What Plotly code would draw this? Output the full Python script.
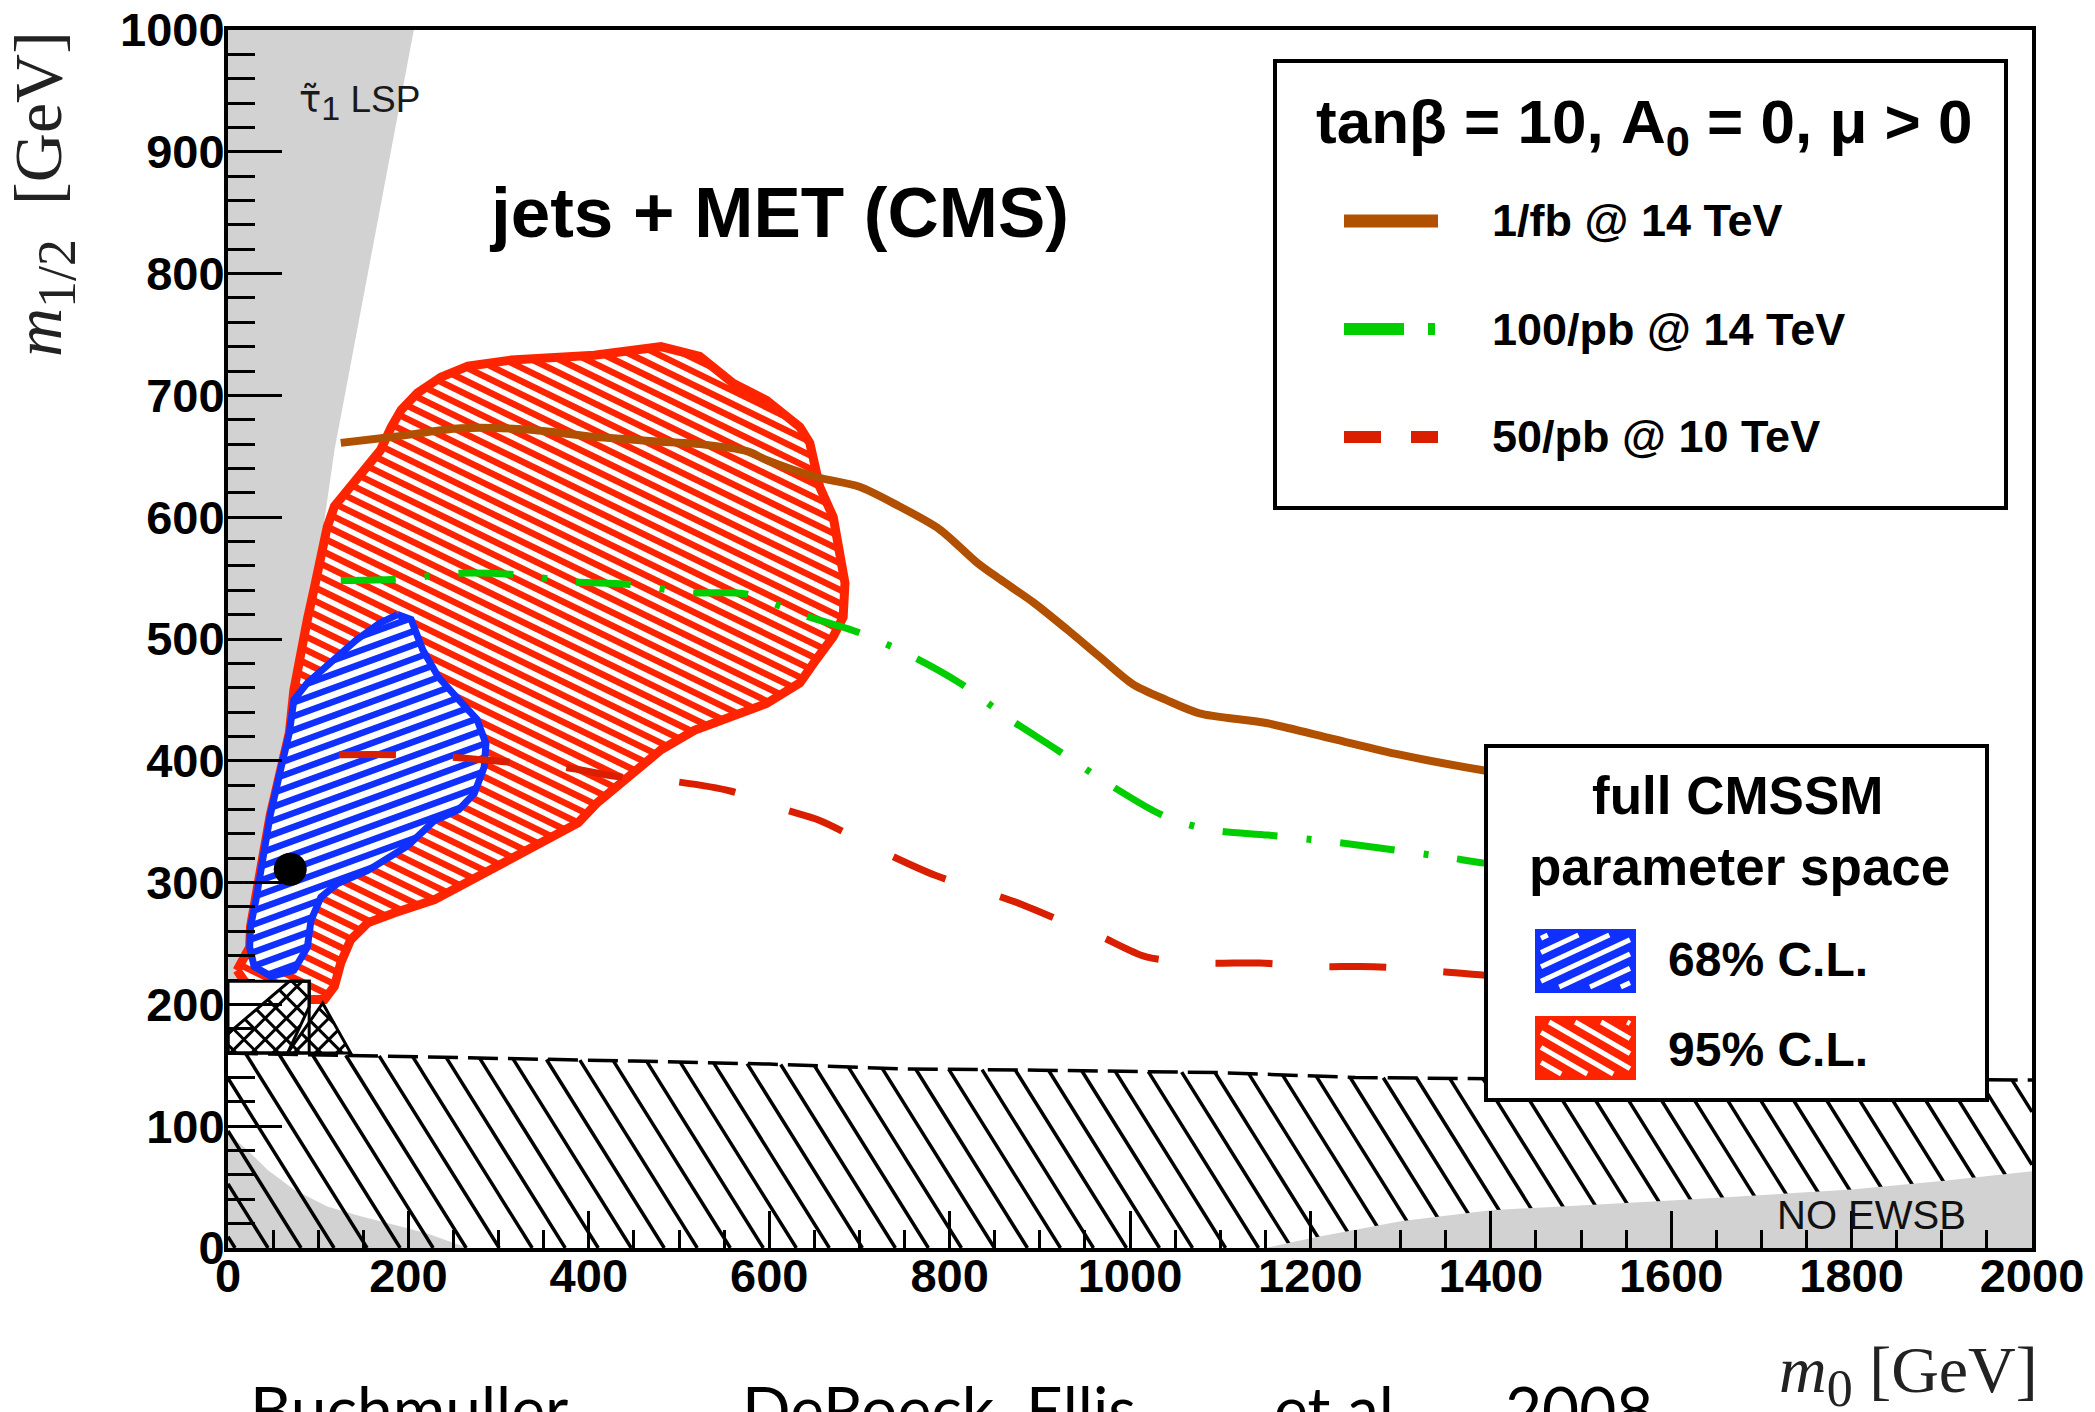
import numpy as np
import plotly.graph_objects as go

# ---------------- axis ticks ----------------
x_ticks = [0, 200, 400, 600, 800, 1000, 1200, 1400, 1600, 1800, 2000]
y_ticks = [0, 100, 200, 300, 400, 500, 600, 700, 800, 900, 1000]

# ---------------- excluded regions (m0, m1/2) ----------------
stau_m0 = [0, 15, 22, 38, 61, 88, 118, 206, 0]
stau_m12 = [160, 220, 245, 300, 400, 500, 655, 1000, 1000]

lowleft_m0 = [0, 22, 44, 73, 110, 147, 184, 221, 251, 266, 0]
lowleft_m12 = [94, 80, 64, 48, 34, 26, 19, 12, 4, 0, 0]

noewsb_m0 = [1150, 1200, 1250, 1300, 1400, 1600, 1800, 1900, 2000, 2000]
noewsb_m12 = [0, 8, 15, 22, 31, 39, 48, 55, 63, 0]

lep_top_m0 = [0, 150, 300, 450, 600, 750, 900, 1000, 1100, 1250, 1400, 1600, 2000]
lep_top_m12 = [160, 158, 155.5, 153.5, 151, 147, 146, 145, 144, 140, 139, 138.5, 138]

xbox_m0 = [0, 0, 90, 90]
xbox_m12 = [160, 219, 219, 160]
xband_m0 = [0, 0, 68, 90, 90, 66]
xband_m12 = [160, 176, 219, 219, 198, 160]
xtri_m0 = [66, 105, 136]
xtri_m12 = [160, 201, 160]

# ---------------- CMSSM fit regions ----------------
cl95_m0 = [10, 24, 25, 31, 36, 40, 47, 59, 68, 73, 79, 88, 96, 103, 110, 118, 136, 155, 169, 181,
           192, 210, 236, 266, 314, 406, 454, 480, 523, 560, 597, 634, 645, 656, 671, 678, 684, 682,
           671, 652, 634, 597, 560, 517, 480, 443, 410, 388, 332, 277, 229, 184, 155, 136, 125, 118,
           107, 73, 40, 22]
cl95_m12 = [228, 247, 264, 286, 308, 327, 356, 395, 423, 458, 483, 516, 543, 570, 592, 609, 625, 642, 655, 674,
            688, 702, 715, 724, 729, 733, 737, 740, 732, 710, 696, 674, 661, 625, 600, 573, 546, 518,
            502, 483, 464, 447, 436, 425, 409, 387, 366, 349, 327, 305, 286, 275, 267, 253, 234, 215,
            204, 204, 206, 215]

cl68_m0 = [188, 203, 216, 233, 256, 276, 286, 284, 273, 256, 229, 199, 155, 121, 103, 92, 88, 73, 48, 29,
           24, 25, 31, 36, 40, 47, 59, 68, 73, 88, 108, 142, 168]
cl68_m12 = [520, 516, 491, 469, 450, 434, 414, 395, 373, 360, 351, 330, 310, 299, 288, 269, 247, 228, 223, 231,
            247, 264, 286, 308, 327, 356, 395, 423, 450, 464, 477, 499, 513]

bestfit_m0 = [69]
bestfit_m12 = [311]

# ---------------- reach curves ----------------
fb14_m0 = [125, 184, 258, 332, 406, 480, 523, 576, 597, 652, 700, 744, 789, 830, 856, 893, 930, 967,
           1003, 1040, 1077, 1151, 1225, 1299, 1393, 1420]
fb14_m12 = [661, 666, 673, 672, 666, 662, 660, 654, 647, 633, 625, 609, 590, 563, 549, 530, 508, 485,
            463, 450, 439, 431, 418, 405, 392, 389]

pb100_m0 = [125, 186, 255, 316, 382, 443, 513, 574, 636, 697, 758, 811, 867, 917, 974, 1026, 1050, 1092,
            1153, 1218, 1281, 1349, 1393, 1420]
pb100_m12 = [548, 549, 554, 553, 547, 545, 538, 537, 520, 506, 486, 464, 434, 410, 382, 359, 351, 343,
             339, 334, 328, 321, 316, 314]

pb50_m0 = [123, 186, 249, 310, 371, 432, 495, 558, 617, 656, 724, 784, 873, 932, 967, 1018, 1081, 1144,
           1207, 1270, 1393, 1420]
pb50_m12 = [405, 405, 403, 399, 395, 387, 383, 375, 360, 351, 326, 306, 284, 266, 256, 239, 234, 234,
            231, 231, 224, 223]

# ---------------- geometry / style ----------------
W, H = 2095, 1412
ML, MR, MT, MB = 228, 63, 30, 164
PW, PH = W - ML - MR, H - MT - MB
SX, SY = PW / 2000.0, PH / 1000.0
SANS = "Liberation Sans"
SERIF = "Liberation Serif"

GRAY = "rgb(210,210,210)"
RED = "rgb(255,36,0)"
BLUE = "rgb(16,48,255)"
BROWN = "rgb(176,80,0)"
GREEN = "rgb(0,206,0)"
DRED = "rgb(218,30,0)"


def d2s(m0, m12):
    return ML + m0 * SX, MT + PH - m12 * SY


def s2d(px, py):
    return (px - ML) / SX, (MT + PH - py) / SY


def s2p(px, py):
    return (px - ML) / PW, (MT + PH - py) / PH


def hatch_px(poly, angle, spacing):
    """hatch segments (screen pixel space, y down): parallel lines clipped to a polygon"""
    P = np.asarray(poly, float)
    th = np.radians(angle)
    d = np.array([np.cos(th), np.sin(th)])
    n = np.array([-np.sin(th), np.cos(th)])
    Q = np.roll(P, -1, axis=0)
    pa_all, pb_all = P @ n, Q @ n
    lo, hi = pa_all.min(), pa_all.max()
    segs = []
    c = np.floor(lo / spacing) * spacing + spacing / 2
    while c < hi:
        ts = []
        for a, b, pa, pb in zip(P, Q, pa_all, pb_all):
            if (pa > c) != (pb > c):
                f = (c - pa) / (pb - pa)
                ts.append((a + f * (b - a)) @ d)
        ts.sort()
        for i in range(0, len(ts) - 1, 2):
            segs.append((c * n + ts[i] * d, c * n + ts[i + 1] * d))
        c += spacing
    return segs


def hatch_trace(m0s, m12s, angle, spacing, color, width):
    poly = [d2s(a, b) for a, b in zip(m0s, m12s)]
    xs, ys = [], []
    for p1, p2 in hatch_px(poly, angle, spacing):
        x1, y1 = s2d(*p1)
        x2, y2 = s2d(*p2)
        xs += [x1, x2, None]
        ys += [y1, y2, None]
    return go.Scatter(x=xs, y=ys, mode="lines", line=dict(color=color, width=width),
                      hoverinfo="skip", showlegend=False)


def fill_trace(m0s, m12s, color):
    return go.Scatter(x=list(m0s) + [m0s[0]], y=list(m12s) + [m12s[0]], mode="none",
                      fill="toself", fillcolor=color, hoverinfo="skip", showlegend=False)


def outline_trace(m0s, m12s, color, width, close=True, dash=None):
    xs, ys = list(m0s), list(m12s)
    if close:
        xs, ys = xs + [xs[0]], ys + [ys[0]]
    return go.Scatter(x=xs, y=ys, mode="lines", line=dict(color=color, width=width, dash=dash),
                      hoverinfo="skip", showlegend=False)


fig = go.Figure()

# excluded regions
fig.add_trace(fill_trace(stau_m0, stau_m12, GRAY))
fig.add_trace(fill_trace(lowleft_m0, lowleft_m12, GRAY))
lep_m0 = lep_top_m0 + [2000, 0]
lep_m12 = lep_top_m12 + [0, 0]
fig.add_trace(hatch_trace(lep_m0, lep_m12, 58, 28, "black", 3.5))
fig.add_trace(fill_trace(noewsb_m0, noewsb_m12, GRAY))
fig.add_trace(outline_trace(lep_top_m0, lep_top_m12, "black", 3.5, close=False, dash="30px,10px"))

# 95% and 68% regions
fig.add_trace(fill_trace(cl95_m0, cl95_m12, "white"))
fig.add_trace(hatch_trace(cl95_m0, cl95_m12, 26, 12, RED, 6.5))
fig.add_trace(outline_trace(cl95_m0, cl95_m12, RED, 9))
fig.add_trace(fill_trace(cl68_m0, cl68_m12, "white"))
fig.add_trace(hatch_trace(cl68_m0, cl68_m12, -20, 13, BLUE, 6.5))
fig.add_trace(outline_trace(cl68_m0, cl68_m12, BLUE, 7))

# cross-hatched box & triangle
fig.add_trace(fill_trace(xbox_m0, xbox_m12, "white"))
fig.add_trace(fill_trace(xtri_m0, xtri_m12, "white"))
for ang in (45, -45):
    fig.add_trace(hatch_trace(xband_m0, xband_m12, ang, 15, "black", 3))
    fig.add_trace(hatch_trace(xtri_m0, xtri_m12, ang, 15, "black", 3))
fig.add_trace(outline_trace(xbox_m0, xbox_m12, "black", 3))
fig.add_trace(outline_trace(xband_m0, xband_m12, "black", 3))
fig.add_trace(outline_trace(xtri_m0, xtri_m12, "black", 3))

# reach curves
fig.add_trace(go.Scatter(x=fb14_m0, y=fb14_m12, mode="lines",
                         line=dict(color=BROWN, width=8, shape="spline", smoothing=0.8),
                         name="1/fb @ 14 TeV", showlegend=False))
fig.add_trace(go.Scatter(x=pb100_m0, y=pb100_m12, mode="lines",
                         line=dict(color=GREEN, width=7, dash="55px,29px,5px,29px", shape="spline",
                                   smoothing=0.8),
                         name="100/pb @ 14 TeV", showlegend=False))
fig.add_trace(go.Scatter(x=pb50_m0, y=pb50_m12, mode="lines",
                         line=dict(color=DRED, width=7, dash="57px,57px", shape="spline", smoothing=0.8),
                         name="50/pb @ 10 TeV", showlegend=False))

# best fit point
fig.add_trace(go.Scatter(x=bestfit_m0, y=bestfit_m12, mode="markers",
                         marker=dict(color="black", size=33), showlegend=False))

# ---------------- legend boxes (shapes) ----------------
shapes = []


def rect_px(x0, y0, x1, y1, fill, lw, lc="black"):
    a = s2p(x0, y1)
    b = s2p(x1, y0)
    return dict(type="rect", xref="paper", yref="paper", x0=a[0], y0=a[1], x1=b[0], y1=b[1],
                fillcolor=fill, line=dict(color=lc, width=lw), layer="above")


def line_px(x0, y0, x1, y1, color, width):
    a = s2p(x0, y0)
    b = s2p(x1, y1)
    return dict(type="line", xref="paper", yref="paper", x0=a[0], y0=a[1], x1=b[0], y1=b[1],
                line=dict(color=color, width=width), layer="above")


shapes.append(rect_px(1275, 61, 2006, 508, "white", 4))
shapes.append(line_px(1344, 221, 1438, 221, BROWN, 13))
shapes.append(line_px(1344, 329, 1404, 329, GREEN, 12))
shapes.append(line_px(1428, 329, 1435, 329, GREEN, 12))
shapes.append(line_px(1344, 437, 1381, 437, DRED, 12))
shapes.append(line_px(1411, 437, 1438, 437, DRED, 12))

shapes.append(rect_px(1486, 746, 1987, 1100, "white", 4))


def swatch(x0, y0, x1, y1, color, angle):
    out = [rect_px(x0, y0, x1, y1, color, 0, color)]
    inner = [(x0 + 6, y0 + 6), (x1 - 6, y0 + 6), (x1 - 6, y1 - 6), (x0 + 6, y1 - 6)]
    for p1, p2 in hatch_px(inner, angle, 13):
        out.append(line_px(p1[0], p1[1], p2[0], p2[1], "white", 5))
    return out


shapes += swatch(1535, 929, 1636, 993, BLUE, -25)
shapes += swatch(1535, 1016, 1636, 1080, RED, 30)

# ---------------- text ----------------
annotations = []


def ann(text, x, y, size, xanchor="left", yanchor="middle", family=SANS, bold=False,
        color="black", angle=0):
    xp, yp = s2p(x, y)
    annotations.append(dict(text=text, x=xp, y=yp, xref="paper", yref="paper", xanchor=xanchor,
                            yanchor=yanchor, showarrow=False, textangle=angle,
                            font=dict(family=family, size=size, color=color,
                                      weight="bold" if bold else "normal")))


ann("<span style=\"font-family:'DejaVu Sans'\">\u03c4\u0303</span>"
    "<sub><span style=\"font-size:34px\">1</span></sub> LSP", 297, 103, 37, color="#1a1a1a")
ann("jets + MET (CMS)", 487, 212, 71, bold=True)
ann("tan\u03b2 = 10, A<sub>0</sub> = 0, \u03bc > 0", 1644, 126, 62, xanchor="center", bold=True)
ann("1/fb @ 14 TeV", 1490, 221, 45, bold=True)
ann("100/pb @ 14 TeV", 1490, 329, 45, bold=True)
ann("50/pb @ 10 TeV", 1490, 436, 45, bold=True)
ann("full CMSSM", 1737, 795, 53, xanchor="center", bold=True)
ann("parameter space", 1739, 866, 53, xanchor="center", bold=True)
ann("68% C.L.", 1666, 959, 48, bold=True)
ann("95% C.L.", 1666, 1049, 48, bold=True)
ann("NO EWSB", 1775, 1215, 40, color="#111111")
ann("<i>m</i><sub><span style=\"font-size:52px\">0</span></sub> [GeV]", 2040, 1375, 66,
    xanchor="right", family=SERIF, color="#222222")
ann("<i>m</i><sub><span style=\"font-size:54px\">1/2</span></sub>&nbsp;&nbsp;[GeV]", 44, 194, 68,
    xanchor="center", family=SERIF, color="#222222", angle=-90)
for word, xl in [("Buchmuller", 248), ("DeRoeck,", 740), ("Ellis", 1024), ("et al", 1272), ("2008", 1503)]:
    ann(word, xl, 1408, 64, family="Lato", color="black")

tickfont = dict(family=SANS, size=47, color="black", weight="bold")

fig.update_layout(
    width=W, height=H,
    margin=dict(l=ML, r=MR, t=MT, b=MB, pad=0, autoexpand=False),
    paper_bgcolor="white", plot_bgcolor="white",
    showlegend=False,
    shapes=shapes,
    annotations=annotations,
    xaxis=dict(range=[0, 2000], tickmode="array", tickvals=x_ticks, ticktext=[str(v) for v in x_ticks],
               ticks="inside", ticklen=37, tickwidth=3, tickcolor="black",
               showline=True, linewidth=4, linecolor="black", mirror=True, automargin=False,
               showgrid=False, zeroline=False, tickfont=tickfont, ticklabelstandoff=-16,
               minor=dict(tick0=0, dtick=50, ticks="inside", ticklen=18, tickwidth=3,
                          tickcolor="black", showgrid=False)),
    yaxis=dict(range=[0, 1000], tickmode="array", tickvals=y_ticks, ticktext=[str(v) for v in y_ticks],
               ticks="inside", ticklen=54, tickwidth=3, tickcolor="black",
               showline=True, linewidth=4, linecolor="black", mirror=True, automargin=False,
               showgrid=False, zeroline=False, tickfont=tickfont, ticklabelstandoff=-10,
               minor=dict(tick0=0, dtick=20, ticks="inside", ticklen=27, tickwidth=3,
                          tickcolor="black", showgrid=False)),
)

fig.write_html("out.html", config={"displayModeBar": False},
               post_script="document.body.style.margin='0';document.body.style.overflow='hidden';")
